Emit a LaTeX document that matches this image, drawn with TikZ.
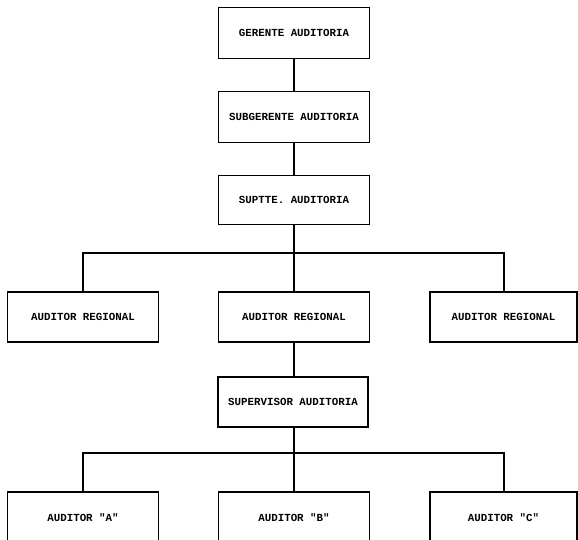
\documentclass[tikz,border=0pt]{standalone}
\usepackage{fontspec}
\setmonofont{Liberation Mono}
\usepackage{tikz}

\begin{document}
\begin{tikzpicture}[x=1pt,y=-1pt,
  puesto/.style={draw, line width=1.6pt, minimum width=151pt, minimum height=51pt,
    inner sep=0pt, font=\ttfamily\bfseries\fontsize{10.8}{12}\selectfont},
  linea/.style={line width=1.3pt}]
\useasboundingbox (0,0) rectangle (578,540);

\node[puesto] (gerente) at (294,33) {GERENTE AUDITORIA};
\node[puesto] (subgerente) at (294,117) {SUBGERENTE AUDITORIA};
\node[puesto, minimum height=49pt] (suptte) at (294,200) {SUPTTE. AUDITORIA};

\node[puesto, minimum height=50pt] (regA) at (83,317) {AUDITOR REGIONAL};
\node[puesto, minimum height=50pt] (regB) at (294,317) {AUDITOR REGIONAL};
\node[puesto, minimum height=50pt, minimum width=147pt] (regC) at (503.5,317) {AUDITOR REGIONAL};

\node[puesto, minimum height=50pt, minimum width=150pt] (supervisor) at (293,402) {SUPERVISOR AUDITORIA};

\node[puesto, minimum height=52pt] (audA) at (83,518) {AUDITOR "A"};
\node[puesto, minimum height=52pt] (audB) at (294,518) {AUDITOR "B"};
\node[puesto, minimum height=52pt, minimum width=147pt] (audC) at (503.5,518) {AUDITOR "C"};

% barras horizontales
\coordinate (bus1) at (294,253);
\coordinate (bus2) at (294,453);

\draw[linea] (gerente) -- (subgerente);
\draw[linea] (subgerente) -- (suptte);

\draw[linea] (suptte) -- (bus1);
\draw[linea] (regA.north) |- (bus1) -| ([xshift=0.5pt]regC.north);
\draw[linea] (bus1) -- (regB);
\draw[linea] (regB) -- (supervisor.north -| regB);

\draw[linea] (supervisor.south -| bus2) -- (bus2);
\draw[linea] (audA.north) |- (bus2) -| ([xshift=0.5pt]audC.north);
\draw[linea] (bus2) -- (audB);

\end{tikzpicture}
\end{document}
